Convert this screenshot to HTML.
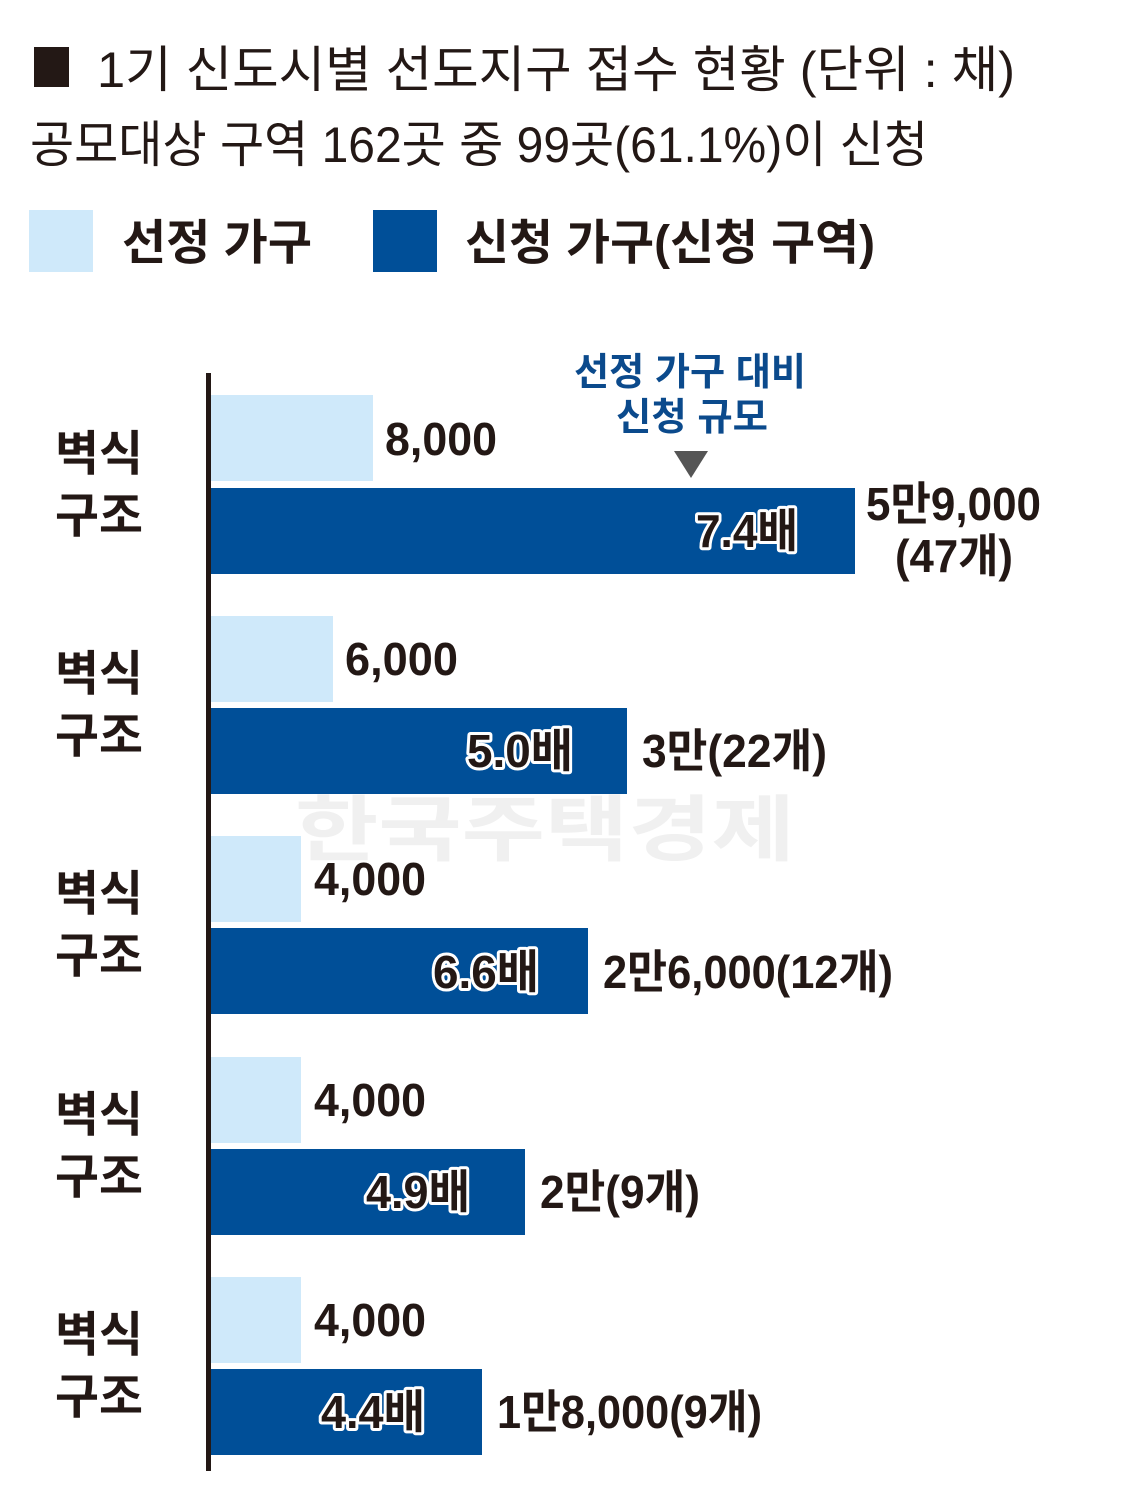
<!DOCTYPE html>
<html><head><meta charset="utf-8"><style>
html,body{margin:0;padding:0;background:#fff;}
svg{display:block;}
text{font-family:"Liberation Sans","Noto Sans CJK KR",sans-serif;fill:#231815;}
.b{font-weight:bold;}
.o{font-weight:bold;stroke:#fff;stroke-width:6px;paint-order:stroke;stroke-linejoin:round;fill:#231815;}
</style></head><body>
<svg width="1127" height="1487" viewBox="0 0 1127 1487" xmlns="http://www.w3.org/2000/svg">
<rect x="0" y="0" width="1127" height="1487" fill="#fff"/>
<rect x="34" y="47" width="35" height="40" fill="#231815"/>
<text x="97" y="87" font-size="50" textLength="918" lengthAdjust="spacingAndGlyphs">1기 신도시별 선도지구 접수 현황 (단위 : 채)</text>
<text x="30" y="162" font-size="50" textLength="898" lengthAdjust="spacingAndGlyphs">공모대상 구역 162곳 중 99곳(61.1%)이 신청</text>
<rect x="29" y="210" width="64" height="62" fill="#cfe9fa"/>
<text class="b" x="122" y="259" font-size="48" textLength="190" lengthAdjust="spacingAndGlyphs">선정 가구</text>
<rect x="373" y="210" width="64" height="62" fill="#004f98"/>
<text class="b" x="465" y="259" font-size="48" textLength="410" lengthAdjust="spacingAndGlyphs">신청 가구(신청 구역)</text>
<text class="b" x="295" y="855" font-size="72" style="fill:#f0f0f0" textLength="500" lengthAdjust="spacingAndGlyphs">한국주택경제</text>
<text class="b" x="690" y="385" font-size="38" text-anchor="middle" style="fill:#0b4a8c" textLength="232" lengthAdjust="spacingAndGlyphs">선정 가구 대비</text>
<text class="b" x="692" y="430" font-size="38" text-anchor="middle" style="fill:#0b4a8c" textLength="152" lengthAdjust="spacingAndGlyphs">신청 규모</text>
<polygon points="674,451 708,451 691,478" fill="#555"/>
<g>
<rect x="211" y="395" width="162" height="86" fill="#cfe9fa"/>
<rect x="211" y="488" width="644" height="86" fill="#004f98"/>
<rect x="211" y="616" width="122" height="86" fill="#cfe9fa"/>
<rect x="211" y="708" width="416" height="86" fill="#004f98"/>
<rect x="211" y="836" width="90" height="86" fill="#cfe9fa"/>
<rect x="211" y="928" width="377" height="86" fill="#004f98"/>
<rect x="211" y="1057" width="90" height="86" fill="#cfe9fa"/>
<rect x="211" y="1149" width="314" height="86" fill="#004f98"/>
<rect x="211" y="1277" width="90" height="86" fill="#cfe9fa"/>
<rect x="211" y="1369" width="271" height="86" fill="#004f98"/>
</g>
<rect x="206" y="373" width="5" height="1098" fill="#231815"/>
<g font-size="48">
<text class="b" x="55" y="470" textLength="88" lengthAdjust="spacingAndGlyphs">벽식</text>
<text class="b" x="55" y="532" textLength="88" lengthAdjust="spacingAndGlyphs">구조</text>
<text class="b" x="55" y="690" textLength="88" lengthAdjust="spacingAndGlyphs">벽식</text>
<text class="b" x="55" y="752" textLength="88" lengthAdjust="spacingAndGlyphs">구조</text>
<text class="b" x="55" y="910" textLength="88" lengthAdjust="spacingAndGlyphs">벽식</text>
<text class="b" x="55" y="972" textLength="88" lengthAdjust="spacingAndGlyphs">구조</text>
<text class="b" x="55" y="1131" textLength="88" lengthAdjust="spacingAndGlyphs">벽식</text>
<text class="b" x="55" y="1193" textLength="88" lengthAdjust="spacingAndGlyphs">구조</text>
<text class="b" x="55" y="1351" textLength="88" lengthAdjust="spacingAndGlyphs">벽식</text>
<text class="b" x="55" y="1413" textLength="88" lengthAdjust="spacingAndGlyphs">구조</text>
</g>
<g font-size="46">
<text class="b" x="385" y="455" textLength="112" lengthAdjust="spacingAndGlyphs">8,000</text>
<text class="b" x="866" y="520" textLength="175" lengthAdjust="spacingAndGlyphs">5만9,000</text>
<text class="b" x="895" y="572" textLength="118" lengthAdjust="spacingAndGlyphs">(47개)</text>
<text class="b" x="345" y="675" textLength="113" lengthAdjust="spacingAndGlyphs">6,000</text>
<text class="b" x="642" y="767" textLength="185" lengthAdjust="spacingAndGlyphs">3만(22개)</text>
<text class="b" x="314" y="895" textLength="112" lengthAdjust="spacingAndGlyphs">4,000</text>
<text class="b" x="603" y="988" textLength="290" lengthAdjust="spacingAndGlyphs">2만6,000(12개)</text>
<text class="b" x="314" y="1116" textLength="112" lengthAdjust="spacingAndGlyphs">4,000</text>
<text class="b" x="540" y="1208" textLength="160" lengthAdjust="spacingAndGlyphs">2만(9개)</text>
<text class="b" x="314" y="1336" textLength="112" lengthAdjust="spacingAndGlyphs">4,000</text>
<text class="b" x="497" y="1428" textLength="265" lengthAdjust="spacingAndGlyphs">1만8,000(9개)</text>
<text class="o" x="696" y="547" textLength="102" lengthAdjust="spacingAndGlyphs">7.4배</text>
<text class="o" x="467" y="767" textLength="106" lengthAdjust="spacingAndGlyphs">5.0배</text>
<text class="o" x="433" y="988" textLength="106" lengthAdjust="spacingAndGlyphs">6.6배</text>
<text class="o" x="366" y="1208" textLength="104" lengthAdjust="spacingAndGlyphs">4.9배</text>
<text class="o" x="321" y="1428" textLength="104" lengthAdjust="spacingAndGlyphs">4.4배</text>
</g>
</svg>
</body></html>
